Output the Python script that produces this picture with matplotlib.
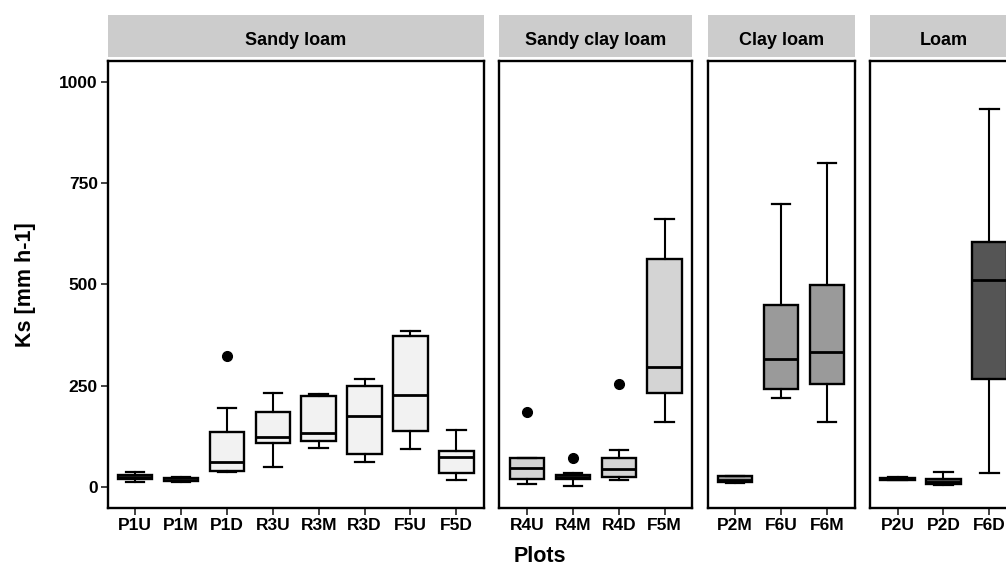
import numpy as np
import matplotlib
matplotlib.use("Agg")
import matplotlib.pyplot as plt

plt.rcParams['font.family'] = ['Liberation Sans', 'DejaVu Sans']
plt.rcParams['font.weight'] = 'bold'

# soil texture facets and the plots in each
textures = ["Sandy loam", "Sandy clay loam", "Clay loam", "Loam"]
plots = [["P1U", "P1M", "P1D", "R3U", "R3M", "R3D", "F5U", "F5D"],
         ["R4U", "R4M", "R4D", "F5M"],
         ["P2M", "F6U", "F6M"],
         ["P2U", "P2D", "F6D"]]
fills = ["#f2f2f2", "#d4d4d4", "#9a9a9a", "#555555"]

# box statistics (Ks, mm h-1)
whislo = [[12, 13, 38, 50, 97, 62, 93, 17],
          [7, 3, 17, 160],
          [10, 220, 160],
          [17, 5, 34]]
q1 = [[20, 15, 40, 108, 113, 81, 139, 34],
      [19, 20, 25, 232],
      [11, 241, 253],
      [18, 7, 267]]
med = [[25, 18, 61, 123, 132, 176, 227, 75],
       [46, 25, 45, 297],
       [18, 315, 334],
       [20, 12, 511]]
q3 = [[29, 22, 135, 186, 225, 250, 373, 89],
      [72, 30, 71, 563],
      [26, 449, 499],
      [22, 20, 605]]
whishi = [[38, 25, 195, 233, 229, 267, 385, 140],
          [72, 34, 92, 660],
          [28, 699, 800],
          [24, 38, 933]]
fliers = [[[], [], [322], [], [], [], [], []],
          [[186], [71], [253], []],
          [[], [], []],
          [[], [], []]]

W, H = 1006, 568
fig = plt.figure(figsize=(W / 100, H / 100), dpi=100)

x0, unit, gap = 107.5, 45.9, 15.5
top, bottom = 61, 508
strip_top, strip_bot = 15, 57
ylim = (-52, 1051)

left = x0
for k, tex in enumerate(textures):
    n = len(plots[k])
    width = (n + 0.2) * unit
    ax = fig.add_axes([left / W, (H - bottom) / H, width / W, (bottom - top) / H])
    sax = fig.add_axes([left / W, (H - strip_bot) / H, width / W, (strip_bot - strip_top) / H])

    stats = []
    for i in range(n):
        stats.append(dict(whislo=whislo[k][i], q1=q1[k][i], med=med[k][i],
                          q3=q3[k][i], whishi=whishi[k][i], fliers=fliers[k][i]))
    pos = np.arange(1, n + 1)
    ax.bxp(stats, positions=pos, widths=0.75, capwidths=0.4, patch_artist=True,
           boxprops=dict(facecolor=fills[k], edgecolor='black', linewidth=1.7),
           medianprops=dict(color='black', linewidth=2.0),
           whiskerprops=dict(color='black', linewidth=1.5),
           capprops=dict(color='black', linewidth=1.6),
           flierprops=dict(marker='o', markerfacecolor='black', markeredgecolor='black',
                           markersize=7))
    ax.set_xlim(0.4, n + 0.6)
    ax.set_ylim(*ylim)
    ax.set_xticks(pos)
    ax.set_xticklabels(plots[k], fontsize=12.5, fontweight='bold')
    ax.set_yticks([0, 250, 500, 750, 1000])
    if k == 0:
        ax.set_yticklabels(["0", "250", "500", "750", "1000"], fontsize=12.5, fontweight='bold')
    else:
        ax.tick_params(axis='y', left=False, labelleft=False)
    ax.tick_params(axis='both', length=5, width=1.3, color='#333333', pad=2)
    for sp in ax.spines.values():
        sp.set_linewidth(1.7)
        sp.set_color('black')

    sax.set_facecolor('#cccccc')
    sax.set_xticks([])
    sax.set_yticks([])
    for sp in sax.spines.values():
        sp.set_visible(False)
    sax.text(0.5, 0.4, tex, transform=sax.transAxes, ha='center', va='center',
             fontsize=13, fontweight='bold')

    left += width + gap

fig.text(26 / W, 1 - 284.5 / H, "Ks [mm h-1]", rotation=90, ha='center', va='center',
         fontsize=15.5, fontweight='bold')
fig.text(540 / W, 1 - 557 / H, "Plots", ha='center', va='center',
         fontsize=15.5, fontweight='bold')

fig.savefig("out.png", dpi=100)
